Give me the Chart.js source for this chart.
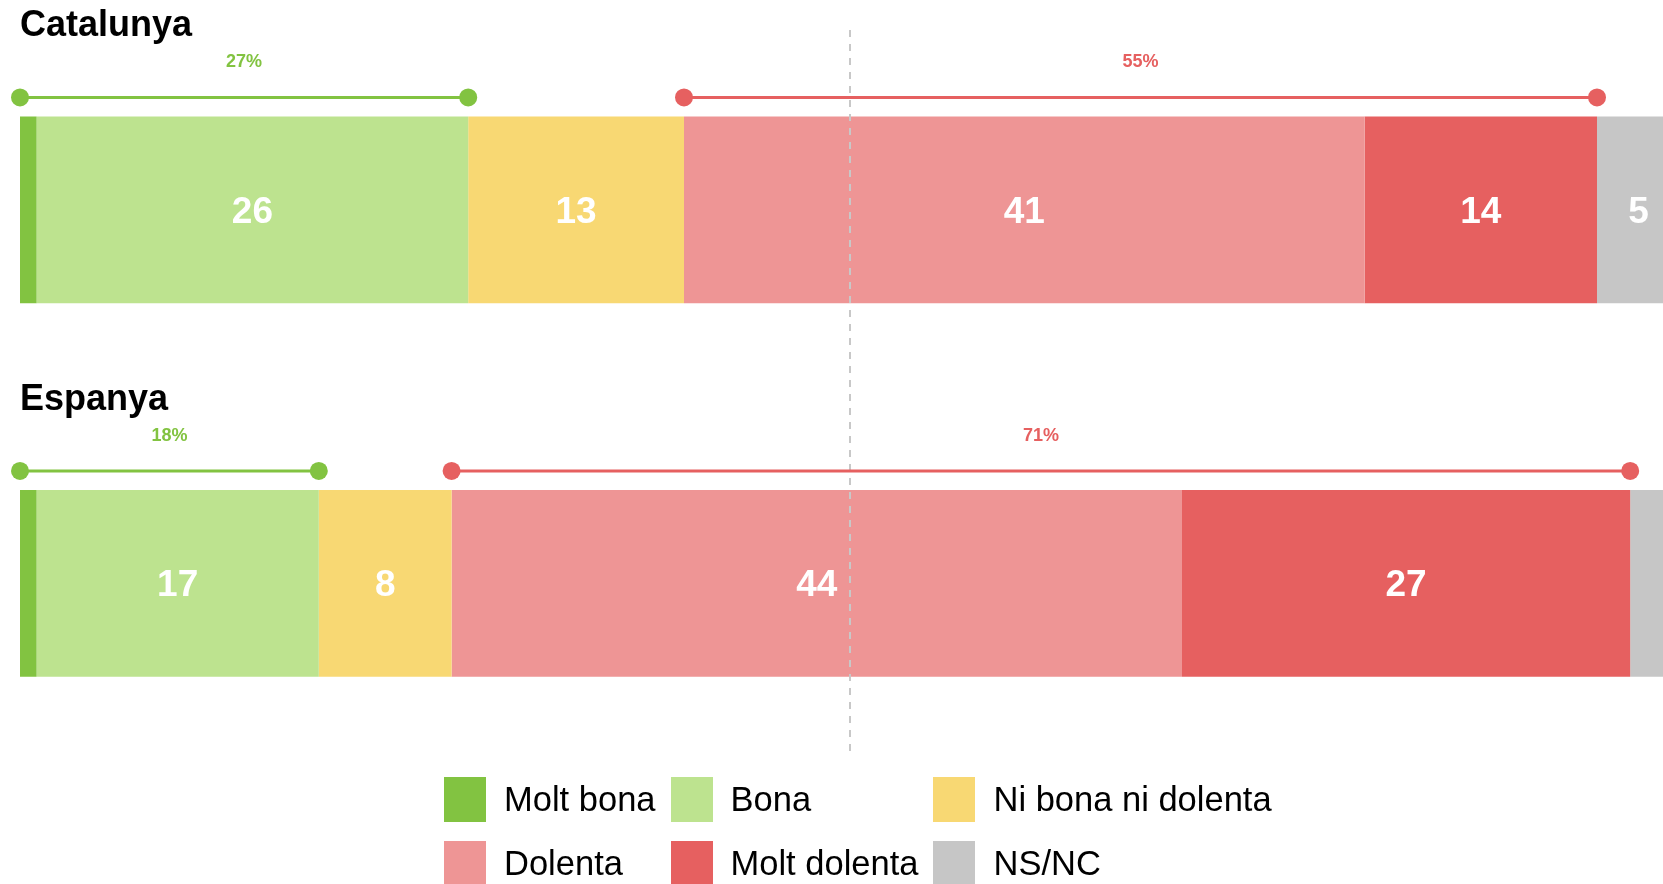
<!DOCTYPE html>
<html lang="ca">
<head>
    <meta charset="UTF-8">
    <meta content="width=device-width, initial-scale=1.0" name="viewport">
    <title>Valoració - Catalunya i Espanya</title>
    <script src="https://cdn.jsdelivr.net/npm/chart.js"></script>
    <style>
        body { margin: 0; overflow: hidden; background: #fff; font-family: Arial, "Liberation Sans", sans-serif; }
        #wrap { position: relative; width: 1700px; height: 800px; }
        #legend {
            position: absolute; left: 444px; top: 777px;
            display: grid; grid-template-columns: auto auto auto;
            column-gap: 15px; row-gap: 19px;
        }
        .item { display: flex; align-items: center; height: 45px; font-size: 34.5px; color: #000; }
        .box { width: 42px; height: 45px; margin-right: 18px; }
    </style>
</head>
<body>

<div id="wrap">
    <canvas id="barChart"></canvas>
</div>
<div id="legend"></div>

<script type="text/javascript">
    // Data
    const regions = ['Catalunya', 'Espanya'];
    const categories = ['Molt bona', 'Bona', 'Ni bona ni dolenta', 'Dolenta', 'Molt dolenta', 'NS/NC'];
    const colors = ['#82c341', '#bde38f', '#f8d873', '#ee9595', '#e66060', '#c6c6c6'];

    const moltBona = [1, 1];
    const bona = [26, 17];
    const niBonaNiDolenta = [13, 8];
    const dolenta = [41, 44];
    const moltDolenta = [14, 27];
    const nsnc = [5, 3];

    const series = [moltBona, bona, niBonaNiDolenta, dolenta, moltDolenta, nsnc];

    // Draws the titles, the bracket lines, the 50% line and the values
    const extras = {
        id: 'extras',
        afterDatasetsDraw(chart) {
            const { ctx, chartArea, scales: { x } } = chart;

            // dashed line at 50%
            ctx.save();
            ctx.strokeStyle = '#c8c8c8';
            ctx.lineWidth = 2;
            ctx.setLineDash([7, 7]);
            const mid = Math.round(x.getPixelForValue(50));
            ctx.beginPath();
            ctx.moveTo(mid, chartArea.top + 7);
            ctx.lineTo(mid, chartArea.bottom - 19);
            ctx.stroke();
            ctx.restore();

            // values inside the segments
            ctx.save();
            ctx.fillStyle = '#fff';
            ctx.font = 'bold 37px Arial, "Liberation Sans", sans-serif';
            ctx.textAlign = 'center';
            ctx.textBaseline = 'alphabetic';
            chart.data.datasets.forEach((ds, i) => {
                chart.getDatasetMeta(i).data.forEach((bar, j) => {
                    const v = ds.data[j];
                    if (v < 5) return;
                    ctx.fillText(String(v), (bar.base + bar.x) / 2, bar.y + 13);
                });
            });
            ctx.restore();

            // titles and brackets
            regions.forEach((name, j) => {
                const bar = chart.getDatasetMeta(0).data[j];
                const top = bar.y - bar.height / 2;

                ctx.save();
                ctx.fillStyle = '#000';
                ctx.font = 'bold 36px Arial, "Liberation Sans", sans-serif';
                ctx.textAlign = 'left';
                ctx.textBaseline = 'alphabetic';
                ctx.fillText(name, chartArea.left, top - 80);
                ctx.restore();

                const good = moltBona[j] + bona[j];
                const badStart = good + niBonaNiDolenta[j];
                const bad = dolenta[j] + moltDolenta[j];
                drawBracket(ctx, x.getPixelForValue(0), x.getPixelForValue(good), top - 19, good + '%', colors[0]);
                drawBracket(ctx, x.getPixelForValue(badStart), x.getPixelForValue(badStart + bad), top - 19, bad + '%', colors[4]);
            });
        }
    };

    function drawBracket(ctx, x1, x2, y, label, color) {
        ctx.save();
        ctx.strokeStyle = color;
        ctx.fillStyle = color;
        ctx.lineWidth = 3;
        ctx.beginPath();
        ctx.moveTo(x1, y);
        ctx.lineTo(x2, y);
        ctx.stroke();
        [x1, x2].forEach(px => {
            ctx.beginPath();
            ctx.arc(px, y, 9, 0, Math.PI * 2);
            ctx.fill();
        });
        ctx.font = 'bold 18px Arial, "Liberation Sans", sans-serif';
        ctx.textAlign = 'center';
        ctx.textBaseline = 'alphabetic';
        ctx.fillText(label, (x1 + x2) / 2, y - 30);
        ctx.restore();
    }

    const ctx = document.getElementById('barChart').getContext('2d');
    const chart = new Chart(ctx, {
        type: 'bar',
        data: {
            labels: regions,
            datasets: categories.map((cat, i) => ({
                label: cat,
                data: series[i],
                backgroundColor: colors[i],
                borderWidth: 0,
                barPercentage: 1,
                categoryPercentage: 0.5
            }))
        },
        options: {
            indexAxis: 'y',
            responsive: true,
            maintainAspectRatio: false,
            animation: false,
            layout: { padding: { left: 20, right: 20, top: 23, bottom: 30 } },
            scales: {
                x: { stacked: true, min: 0, max: 100, display: false },
                y: { stacked: true, display: false }
            },
            plugins: {
                legend: { display: false },
                tooltip: { enabled: false }
            }
        },
        plugins: [extras]
    });

    // Legend in a 3-column grid
    const legend = document.getElementById('legend');
    categories.forEach((cat, i) => {
        const item = document.createElement('div');
        item.className = 'item';
        item.innerHTML = '<span class="box" style="background:' + colors[i] + '"></span><span>' + cat + '</span>';
        legend.appendChild(item);
    });
</script>

</body>
</html>
